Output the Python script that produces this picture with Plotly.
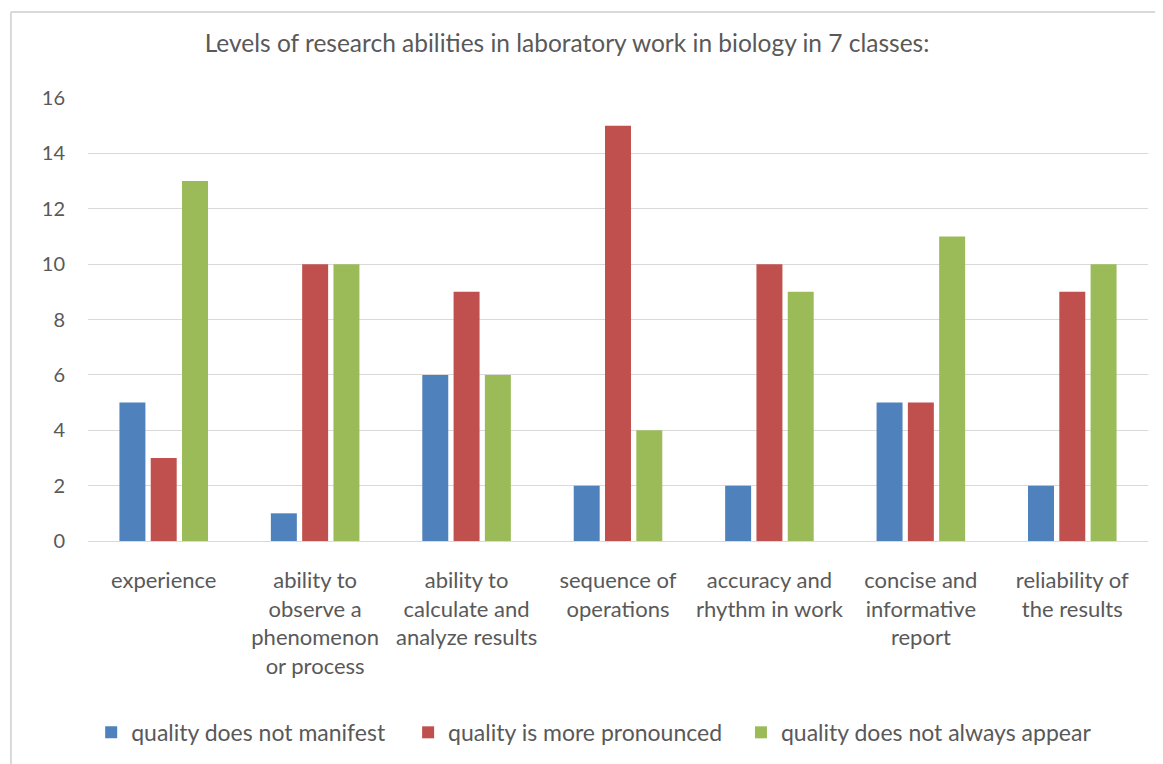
import plotly.graph_objects as go

categories = [
    "experience",
    "ability to<br>observe a<br>phenomenon<br>or process",
    "ability to<br>calculate and<br>analyze results",
    "sequence of<br>operations",
    "accuracy and<br>rhythm in work",
    "concise and<br>informative<br>report",
    "reliability of<br>the results",
]
not_manifest = [5, 1, 6, 2, 2, 5, 2]
more_pronounced = [3, 10, 9, 15, 10, 5, 9]
not_always = [13, 10, 6, 4, 9, 11, 10]

series = [
    ("quality does not manifest", not_manifest, "#4F81BD", "legend", 0.003),
    ("quality is more pronounced", more_pronounced, "#C0504D", "legend2", 0.302),
    ("quality does not always appear", not_always, "#9BBB59", "legend3", 0.616),
]

text_col = "#595959"
grid_col = "#d9d9d9"
font_fam = "Lato, Open Sans, sans-serif"

fig = go.Figure()
legends = {}
for name, vals, col, leg, lx in series:
    fig.add_trace(go.Bar(name=name, x=categories, y=vals, legend=leg,
                         marker=dict(color=col, line=dict(width=0))))
    # one legend per series so each entry sits where it does in the original
    legends[leg] = dict(orientation="h", x=lx, xanchor="left", y=-0.432, yanchor="middle",
                        font=dict(size=23, color=text_col), itemwidth=30, bgcolor="rgba(0,0,0,0)")

# the page body adds an 8px margin, so the figure is 8px smaller and shifted
fig.update_layout(
    width=1155, height=756,
    paper_bgcolor="white", plot_bgcolor="white",
    margin=dict(l=80, r=15, t=90, b=223, autoexpand=False),
    barmode="group", bargap=0.38, bargroupgap=0.17,
    font=dict(family=font_fam, color=text_col, size=21),
    title=dict(text="Levels of research abilities in laboratory work in biology in 7 classes:",
               x=0.484, xanchor="center", y=0.953, yanchor="middle",
               font=dict(size=24.5, color=text_col)),
    showlegend=True,
    **legends,
)
fig.update_yaxes(range=[0, 16], dtick=2, showgrid=True, gridcolor=grid_col, gridwidth=1,
                 zeroline=True, zerolinecolor=grid_col, zerolinewidth=1, automargin=False,
                 ticks="", ticklabelstandoff=22, tickfont=dict(size=20, color=text_col), showline=False)
fig.update_xaxes(showgrid=False, showline=False, ticks="", ticklabelstandoff=24, automargin=False,
                 tickfont=dict(size=22, color=text_col), tickangle=0)

# outer chart frame (only top and left edges are visible in the picture)
fig.add_shape(type="line", xref="paper", yref="paper", x0=-0.0727, x1=1.03, y0=1.194, y1=1.194,
              line=dict(color=grid_col, width=2))
fig.add_shape(type="line", xref="paper", yref="paper", x0=-0.0727, x1=-0.0727, y0=1.194, y1=-0.52,
              line=dict(color=grid_col, width=2))

fig.write_html("out.html")
